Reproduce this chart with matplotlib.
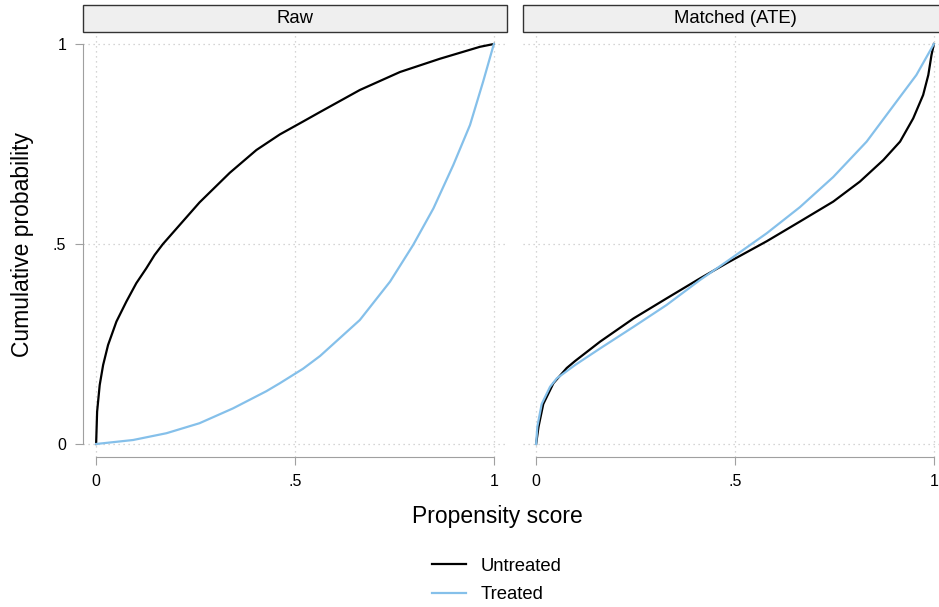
import matplotlib.pyplot as plt
from matplotlib.patches import Rectangle

plt.rcParams['font.family'] = ['Liberation Sans', 'DejaVu Sans']

# raw sample
raw_untreated_x = [0, 0.0025, 0.009, 0.0176, 0.03, 0.051, 0.076, 0.101, 0.126, 0.147, 0.168,
                   0.21, 0.26, 0.336, 0.403, 0.462, 0.52, 0.563, 0.663, 0.764, 0.864, 0.965, 1.0]
raw_untreated_y = [0, 0.081, 0.1475, 0.1975, 0.2475, 0.306, 0.356, 0.402, 0.439, 0.4725, 0.50,
                   0.5475, 0.604, 0.678, 0.735, 0.774, 0.806, 0.83, 0.885, 0.93, 0.963, 0.993, 1.0]
raw_treated_x = [0, 0.093, 0.177, 0.26, 0.344, 0.428, 0.462, 0.52, 0.563, 0.663, 0.739,
                 0.797, 0.848, 0.898, 0.94, 0.973, 1.0]
raw_treated_y = [0, 0.01, 0.027, 0.052, 0.089, 0.132, 0.152, 0.188, 0.22, 0.31, 0.406,
                 0.4975, 0.589, 0.6975, 0.7975, 0.906, 1.0]

# matched sample (ATE)
m_untreated_x = [0, 0.006, 0.018, 0.0435, 0.077, 0.098, 0.161, 0.245, 0.328, 0.412, 0.479,
                 0.58, 0.663, 0.747, 0.814, 0.873, 0.915, 0.948, 0.973, 0.986, 0.994, 1.0]
m_untreated_y = [0, 0.043, 0.10, 0.152, 0.19, 0.2075, 0.256, 0.314, 0.364, 0.414, 0.452,
                 0.507, 0.556, 0.606, 0.656, 0.71, 0.756, 0.814, 0.8725, 0.9225, 0.9725, 1.0]
m_treated_x = [0, 0.003, 0.014, 0.035, 0.052, 0.098, 0.161, 0.245, 0.328, 0.412, 0.479,
               0.58, 0.663, 0.747, 0.831, 0.915, 0.956, 1.0]
m_treated_y = [0, 0.043, 0.10, 0.143, 0.164, 0.1975, 0.239, 0.293, 0.3475, 0.41, 0.456,
               0.527, 0.592, 0.6675, 0.756, 0.868, 0.9225, 1.0]

panels = ['Raw', 'Matched (ATE)']
ticks = [0, 0.5, 1]
ticklabels = ['0', '.5', '1']
blue = '#85c0ea'
grey = '#a0a0a0'

fig = plt.figure(figsize=(9.39, 6.07), dpi=100)
ax1 = fig.add_axes([83 / 939, 1 - 457 / 607, 424 / 939, 425 / 607])
ax2 = fig.add_axes([523 / 939, 1 - 457 / 607, 424 / 939, 425 / 607])

data = [(raw_untreated_x, raw_untreated_y, raw_treated_x, raw_treated_y),
        (m_untreated_x, m_untreated_y, m_treated_x, m_treated_y)]

for i, ax in enumerate([ax1, ax2]):
    ux, uy, tx, ty = data[i]
    ax.plot(ux, uy, color='black', lw=1.6, label='Untreated', zorder=3)
    ax.plot(tx, ty, color=blue, lw=1.6, label='Treated', zorder=3)
    ax.set_xlim(-0.033, 1.033)
    ax.set_ylim(-0.0325, 1.03)
    ax.set_xticks(ticks)
    ax.set_xticklabels(ticklabels, fontsize=11.5)
    ax.grid(True, color='#c8c8c8', linestyle=(0, (1, 3)), lw=0.9)
    ax.spines['top'].set_visible(False)
    ax.spines['right'].set_visible(False)
    ax.spines['bottom'].set_bounds(0, 1)
    ax.spines['bottom'].set_color(grey)
    ax.tick_params(axis='x', color=grey, length=6, pad=6)
    ax.add_patch(Rectangle((0, 1.0), 1, 0.0635, transform=ax.transAxes, clip_on=False,
                           facecolor='#efefef', edgecolor='#333333', lw=1))
    ax.text(0.5, 1.032, panels[i], transform=ax.transAxes, ha='center', va='center', fontsize=13.3)

ax1.set_yticks(ticks)
ax1.set_yticklabels(ticklabels, fontsize=11.5)
ax1.spines['left'].set_bounds(0, 1)
ax1.spines['left'].set_color(grey)
ax1.tick_params(axis='y', color=grey, length=6, pad=6)
ax1.set_ylabel('Cumulative probability', fontsize=16.5, labelpad=14)

ax2.set_yticks(ticks)
ax2.tick_params(axis='y', length=0, labelleft=False)
ax2.spines['left'].set_visible(False)

fig.text(497 / 939, 1 - 516 / 607, 'Propensity score', ha='center', va='center', fontsize=16.5)

handles, labels = ax1.get_legend_handles_labels()
fig.legend(handles, labels, loc='upper center', bbox_to_anchor=(497 / 939, 1 - 541 / 607),
           frameon=False, fontsize=13.3, handlelength=1.85, handletextpad=0.8, labelspacing=0.62)

fig.savefig('out.png', dpi=100)
